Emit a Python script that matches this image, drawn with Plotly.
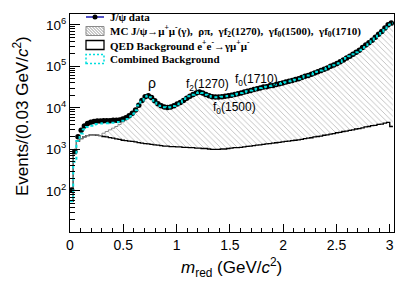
import numpy as np
import plotly.graph_objects as go

# ---------------- data ----------------
bin_width = 0.03          # GeV/c^2
n_bins = 101

data_counts = [105, 890, 2000, 2880, 3630, 4170, 4470, 4680, 4790, 4790,
 4900, 4900, 4900, 5010, 5010, 5130, 5370, 5750, 6460, 7410,
 8910, 11500, 15100, 18600, 19500, 17800, 14800, 12600, 11200, 10500,
 10200, 10500, 11200, 12300, 13500, 15100, 17000, 19100, 20900, 22900,
 24000, 22900, 20900, 19500, 18600, 18200, 18200, 18600, 19100, 19500,
 20000, 20900, 21900, 22900, 24000, 25100, 26300, 27500, 28800, 30200,
 31600, 32400, 33900, 34700, 36300, 38000, 39800, 41700, 43700, 45700,
 47900, 50100, 53700, 57500, 60300, 64600, 69200, 74100, 79400, 85100,
 91200, 100000, 107000, 117000, 129000, 141000, 158000, 174000, 195000, 219000,
 245000, 282000, 324000, 372000, 427000, 501000, 589000, 692000, 832000, 1000000,
 1100000]

combined_counts = [56, 500, 1580, 2400, 3020, 3470, 3720, 3980, 4070, 4170,
 4270, 4270, 4370, 4370, 4470, 4570, 4900, 5370, 6170, 7240,
 8800, 11400, 15000, 18700, 19600, 17900, 14800, 12500, 11100, 10400,
 10200, 10400, 11100, 12200, 13400, 15000, 17000, 19000, 20800, 22700,
 23800, 22800, 20800, 19400, 18500, 18100, 18100, 18500, 19000, 19400,
 19900, 20800, 21800, 22800, 23900, 25000, 26200, 27400, 28700, 30100,
 31500, 32300, 33800, 34600, 36200, 37900, 39700, 41600, 43600, 45600,
 47800, 50000, 53600, 57400, 60200, 64500, 69100, 74000, 79300, 85000,
 91100, 99800, 106800, 116800, 128800, 140800, 157800, 173800, 194500, 218500,
 244500, 281500, 323500, 371500, 426000, 500000, 588000, 690000, 830000, 998000,
 1095000]

mc_total_counts = [56, 790, 1580, 1820, 2000, 2140, 2240, 2240, 2190, 2140,
 2450, 2690, 2950, 3240, 3550, 3980, 4570, 5250, 6170, 7240,
 8700, 11300, 14900, 18500, 19400, 17700, 14700, 12400, 11000, 10300,
 10100, 10300, 11000, 12100, 13300, 14900, 16800, 18800, 20600, 22500,
 23600, 22600, 20600, 19200, 18300, 17900, 17900, 18300, 18800, 19200,
 19700, 20600, 21600, 22600, 23700, 24800, 26000, 27200, 28500, 29900,
 31300, 32100, 33600, 34400, 36000, 37700, 39500, 41400, 43400, 45400,
 47600, 49800, 53400, 57200, 60000, 64300, 68900, 73800, 79100, 84800,
 90900, 99500, 106500, 116500, 128500, 140500, 157500, 173500, 194000, 218000,
 244000, 281000, 323000, 371000, 425000, 499000, 586000, 688000, 828000, 995000,
 1090000]

qed_counts = [56, 790, 1580, 1820, 2000, 2140, 2240, 2240, 2190, 2140,
 2040, 2000, 1910, 1860, 1780, 1740, 1660, 1620, 1580, 1550,
 1510, 1450, 1410, 1380, 1350, 1320, 1290, 1260, 1230, 1200,
 1200, 1170, 1170, 1150, 1150, 1120, 1120, 1100, 1100, 1070,
 1070, 1050, 1050, 1020, 1000, 1000, 1000, 1020, 1020, 1050,
 1070, 1100, 1100, 1120, 1150, 1175, 1200, 1230, 1260, 1290,
 1320, 1350, 1380, 1410, 1445, 1480, 1510, 1550, 1585, 1620,
 1660, 1700, 1740, 1820, 1860, 1905, 2000, 2040, 2090, 2190,
 2240, 2340, 2400, 2510, 2570, 2690, 2750, 2880, 2950, 3090,
 3160, 3310, 3470, 3550, 3720, 3800, 3980, 4070, 4270, 4470,
 3550]

resonance_labels = ["ρ", "f<sub>2</sub>(1270)", "f<sub>0</sub>(1710)", "f<sub>0</sub>(1500)"]
resonance_x = [0.77, 1.29, 1.75, 1.54]
resonance_logy = [4.6, 4.56, 4.66, 4.0]
resonance_size = [14, 12, 12, 12]

legend_labels = [
    "J/ψ data",
    "MC J/ψ→μ<sup>+</sup>μ<sup>-</sup>(γ),\u00a0 ρπ,\u00a0 γf<sub>2</sub>(1270),\u00a0 γf<sub>0</sub>(1500),\u00a0 γf<sub>0</sub>(1710)",
    "QED Background e<sup>+</sup>e<sup>-</sup>→γμ<sup>+</sup>μ<sup>-</sup>",
    "Combined Background",
]

x_tick_vals = [0, 0.5, 1, 1.5, 2, 2.5, 3]
x_tick_text = ["0", "0.5", "1", "1.5", "2", "2.5", "3"]
y_tick_vals = [1e2, 1e3, 1e4, 1e5, 1e6]
y_tick_text = ["10<sup>2</sup>", "10<sup>3</sup>", "10<sup>4</sup>", "10<sup>5</sup>", "10<sup>6</sup>"]

# ---------------- geometry (screen pixels; page body has an 8px margin) ----------------
OFF = 8
W, H = 415 - OFF, 281 - OFF
L, R, T, B = 70 - OFF, 21, 14 - OFF, 49
PW, PH = W - L - R, H - T - B


def px(sx):
    return (sx - OFF - L) / PW


def py(sy):
    return (H - B - (sy - OFF)) / PH


edges = np.arange(n_bins + 1) * bin_width
centers = edges[:-1] + bin_width / 2


def step(vals):
    return list(vals) + [vals[-1]]


SANS = "Liberation Sans, Arial, Helvetica, sans-serif"
SERIF = "Liberation Serif, Times New Roman, serif"
CYAN = "#00dede"
HATCH = "#7a7a7a"

fig = go.Figure()
fig.add_trace(go.Scatter(x=edges, y=step(qed_counts), mode="lines", line_shape="hv",
                         line=dict(color="black", width=1.3), hoverinfo="skip"))
fig.add_trace(go.Scatter(x=edges, y=step(mc_total_counts), mode="lines", line_shape="hv",
                         line=dict(color="#8a8a8a", width=1), fill="tonexty",
                         fillcolor="rgba(0,0,0,0)",
                         fillpattern=dict(shape="\\", fgcolor=HATCH, bgcolor="white",
                                          size=4, solidity=0.22)))
fig.add_trace(go.Scatter(x=centers, y=data_counts, mode="markers",
                         marker=dict(color="black", size=5.5)))
fig.add_trace(go.Scatter(x=edges, y=step(combined_counts), mode="lines", line_shape="hv",
                         line=dict(color=CYAN, width=2, dash="3px,3px")))

minor_y = [k * 10 ** d for d in range(1, 7) for k in range(2, 10) if k * 10 ** d < 1.8e6]

fig.update_layout(
    width=W, height=H, margin=dict(l=L, r=R, t=T, b=B, autoexpand=False),
    paper_bgcolor="white", plot_bgcolor="white", showlegend=False,
    xaxis=dict(range=[0, 3.04], tickmode="array", tickvals=x_tick_vals, ticktext=x_tick_text,
               ticks="inside", ticklen=8, tickcolor="black", automargin=False,
               minor=dict(tickmode="linear", tick0=0, dtick=0.1, ticks="inside", ticklen=4,
                          tickcolor="black", showgrid=False),
               showline=True, mirror=True, linecolor="black", linewidth=1,
               showgrid=False, zeroline=False,
               tickfont=dict(family=SANS, size=14, color="black")),
    yaxis=dict(type="log", range=[1.01, 6.26], tickmode="array", tickvals=y_tick_vals,
               ticktext=y_tick_text, ticks="inside", ticklen=10, tickcolor="black",
               automargin=False,
               minor=dict(tickmode="array", tickvals=minor_y, ticks="inside", ticklen=5,
                          tickcolor="black", showgrid=False),
               showline=True, mirror=True, linecolor="black", linewidth=1,
               showgrid=False, zeroline=False,
               tickfont=dict(family=SANS, size=13.5, color="black")),
)

ann = []
# axis titles
ann.append(dict(xref="paper", yref="paper", x=px(231), y=py(267), xanchor="center", yanchor="middle",
                text="<i>m</i><sub>red</sub> (GeV/<i>c</i><sup>2</sup>)", showarrow=False,
                font=dict(family=SANS, size=17, color="black")))
ann.append(dict(xref="paper", yref="paper", x=px(21), y=py(116), xanchor="center", yanchor="middle",
                text="Events/(0.03 GeV/<i>c</i><sup>2</sup>)", showarrow=False, textangle=-90,
                font=dict(family=SANS, size=17, color="black")))
# resonance labels
for t, xv, yv, fs in zip(resonance_labels, resonance_x, resonance_logy, resonance_size):
    ann.append(dict(xref="x", yref="y", x=xv, y=yv, text=t, showarrow=False,
                    xanchor="center", yanchor="middle",
                    font=dict(family=SANS, size=fs, color="black")))

# legend (manual, ROOT style)
row_y = [17, 31, 45, 59]
sx0, sx1 = 86, 104
tx = 108
for t, yy in zip(legend_labels, row_y):
    ann.append(dict(xref="paper", yref="paper", x=px(tx), y=py(yy), xanchor="left", yanchor="middle",
                    text="<b>" + t + "</b>", showarrow=False,
                    font=dict(family=SERIF, size=11, color="black")))

shapes = []
# data symbol
shapes.append(dict(type="line", xref="paper", yref="paper", x0=px(sx0), x1=px(sx1),
                   y0=py(row_y[0]), y1=py(row_y[0]), line=dict(color="#1a1ab0", width=1.5)))
shapes.append(dict(type="circle", xref="paper", yref="paper", x0=px(92.5), x1=px(97.5),
                   y0=py(row_y[0] + 2.5), y1=py(row_y[0] - 2.5), fillcolor="black",
                   line=dict(color="black", width=0)))
# hatched box
bh = 4.5
top, bot = row_y[1] - bh, row_y[1] + bh
h = bot - top
s = -h
while s < (sx1 - sx0):
    t0 = max(0.0, -s / h)
    t1 = min(1.0, (sx1 - sx0 - s) / h)
    if t1 > t0:
        xa, ya = sx0 + s + t0 * h, top + t0 * h
        xb, yb = sx0 + s + t1 * h, top + t1 * h
        shapes.append(dict(type="line", xref="paper", yref="paper", x0=px(xa), x1=px(xb),
                           y0=py(ya), y1=py(yb), line=dict(color=HATCH, width=0.8)))
    s += 3
shapes.append(dict(type="rect", xref="paper", yref="paper", x0=px(sx0), x1=px(sx1),
                   y0=py(bot), y1=py(top), line=dict(color="#8a8a8a", width=1)))
# QED box
shapes.append(dict(type="rect", xref="paper", yref="paper", x0=px(sx0), x1=px(sx1),
                   y0=py(row_y[2] + bh), y1=py(row_y[2] - bh), line=dict(color="black", width=1.3)))
# combined box
shapes.append(dict(type="rect", xref="paper", yref="paper", x0=px(sx0), x1=px(sx1),
                   y0=py(row_y[3] + bh), y1=py(row_y[3] - bh),
                   line=dict(color=CYAN, width=1.5, dash="2px,2px")))

fig.update_layout(annotations=ann, shapes=shapes)
fig.write_html("out.html")
